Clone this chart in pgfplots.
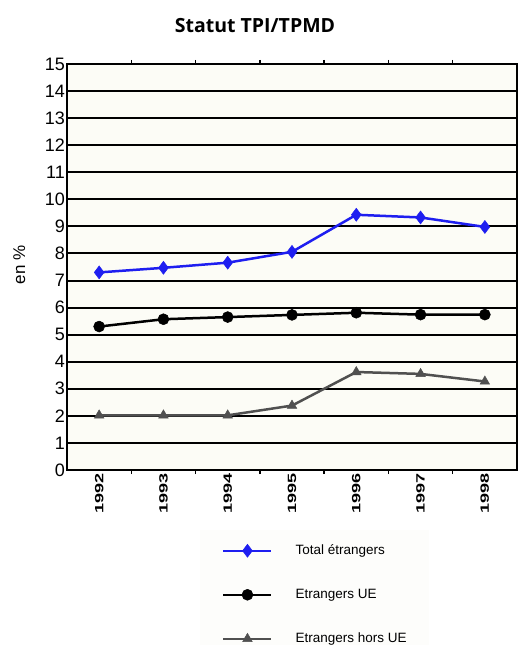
\documentclass[border=0pt]{standalone}
\usepackage{pgfplots}
\pgfplotsset{compat=1.18}
\usepackage{fontspec}
\setmainfont{Liberation Sans}
\newfontfamily\titlefont{Open Sans}
\definecolor{bluec}{RGB}{30,30,240}
\definecolor{grayc}{RGB}{80,80,80}
\definecolor{bgc}{RGB}{252,252,246}
\definecolor{legbg}{RGB}{253,253,251}
\newcommand{\yr}[1]{\scalebox{1.5}[1]{#1}}
\begin{document}
\begin{tikzpicture}
\path[use as bounding box] (0,0) rectangle (518pt,645pt);
\clip (0,0) rectangle (518pt,645pt);
\node[font=\titlefont\bfseries\fontsize{19.5}{22}\selectfont, anchor=base] at (255pt,612pt) {Statut TPI/TPMD};
\begin{axis}[
  at={(67pt,175pt)}, anchor=south west,
  scale only axis, width=450pt, height=406pt,
  xmin=-0.5, xmax=6.5, ymin=0, ymax=15,
  ytick={0,1,...,15},
  xtick={0,...,6},
  xticklabels={\yr{1992},\yr{1993},\yr{1994},\yr{1995},\yr{1996},\yr{1997},\yr{1998}},
  extra x ticks={0.5,1.5,2.5,3.5,4.5,5.5},
  extra x tick labels={},
  extra x tick style={major tick length=4pt, tick style={line width=1.5pt, black}, tick align=outside, grid=none},
  major tick length=0pt,
  ymajorgrids,
  grid style={line width=2pt, black},
  axis line style={line width=2pt, black},
  axis background/.style={fill=bgc},
  /pgf/number format/assume math mode=true,
  yticklabel style={font=\fontsize{18}{20}\selectfont, inner xsep=2pt},
  xticklabel style={font=\bfseries\fontsize{12}{14}\selectfont, rotate=90, anchor=east, inner xsep=3pt},
  ylabel={en \%},
  ylabel style={font=\fontsize{17}{20}\selectfont, at={(axis description cs:-0.085,0.505)}, anchor=south},
  legend style={draw=none, fill=legbg, at={(axis description cs:0.2956,-0.148)}, anchor=north west,
    inner xsep=22pt, inner ysep=14pt, column sep=23pt, row sep=31pt,
    font=\fontsize{13.5}{15}\selectfont,
    nodes={inner xsep=0pt, inner ysep=0pt, text height=10pt, text depth=3pt}},
  legend cell align=left,
  legend image code/.code={\draw[#1, mark repeat=2, mark phase=2] plot coordinates {(0pt,0pt) (24pt,0pt) (48pt,0pt)};},
]
\addplot[bluec, line width=2.5pt, mark=diamond*, mark size=6.5pt, mark options={fill=bluec, line width=0.5pt}]
  coordinates {(0,7.30) (1,7.47) (2,7.66) (3,8.06) (4,9.43) (5,9.33) (6,8.98)};
\addlegendentry{Total étrangers}
\addplot[black, line width=2.5pt, mark=*, mark size=5.5pt, mark options={fill=black, line width=0.5pt}]
  coordinates {(0,5.30) (1,5.57) (2,5.65) (3,5.73) (4,5.81) (5,5.74) (6,5.74)};
\addlegendentry{Etrangers UE}
\addplot[grayc, line width=2.5pt, mark=triangle*, mark size=5.5pt, mark options={fill=grayc, line width=0.5pt}]
  coordinates {(0,2.02) (1,2.02) (2,2.02) (3,2.38) (4,3.62) (5,3.55) (6,3.27)};
\addlegendentry{Etrangers hors UE}
\end{axis}
\end{tikzpicture}
\end{document}
